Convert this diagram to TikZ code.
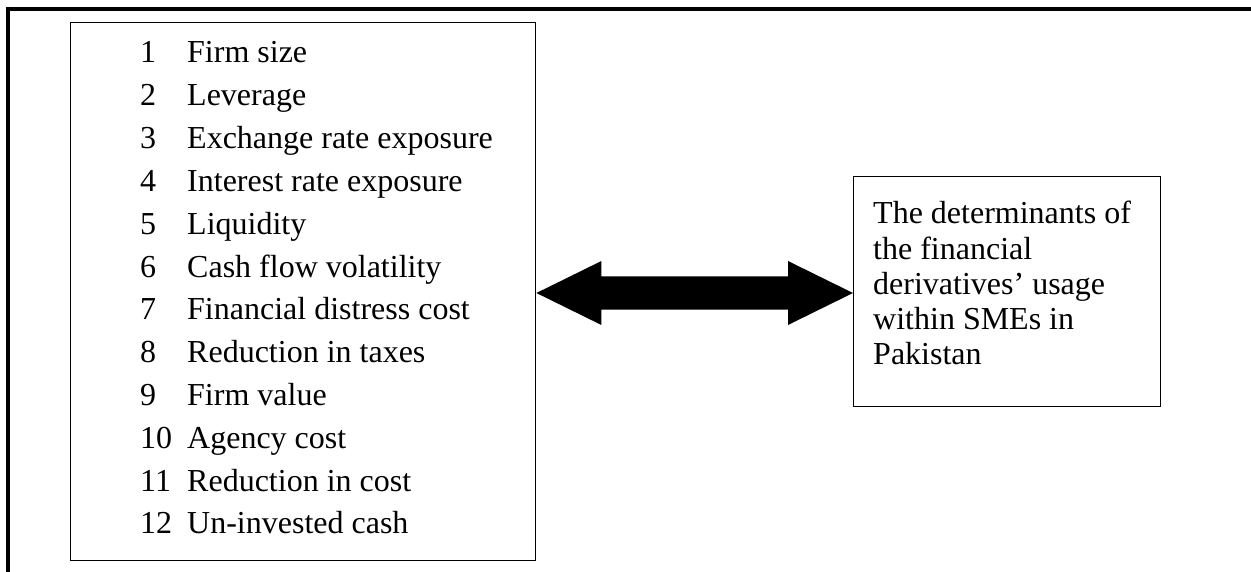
\documentclass[tikz,border=0pt]{standalone}
\usepackage{fontspec}
\setmainfont{Liberation Serif}
\usetikzlibrary{calc}
\begin{document}
\begin{tikzpicture}[x=1pt,y=-1pt,
  frame/.style={line width=4pt},
  box/.style={draw, line width=1.4pt},
  txt/.style={anchor=base west, inner sep=0pt, font=\fontsize{32}{38}\selectfont},
  bigarrow/.style={fill=black}]
\useasboundingbox (0,0) rectangle (1251,572);

% outer frame (open at right and bottom)
\draw[frame] (8,572) -- (8,9) -- (1251,9);

% left box with the list of factors
\node[box, minimum width=465pt, minimum height=538pt, anchor=north west] (list) at (70,22) {};
\foreach \n/\t [count=\i from 0] in {1/Firm size, 2/Leverage, 3/Exchange rate exposure,
  4/Interest rate exposure, 5/Liquidity, 6/Cash flow volatility,
  7/Financial distress cost, 8/Reduction in taxes, 9/Firm value,
  10/Agency cost, 11/Reduction in cost, 12/Un-invested cash}{
  \node[txt] (num\n) at (140,63+42.8*\i) {\n};
  \node[txt] (item\n) at (187,63+42.8*\i) {\t};
}

% right box
\node[box, minimum width=307pt, minimum height=230pt, anchor=north west] (goal) at (853,176) {};
\foreach \t [count=\i from 0] in {The determinants of, the financial,
  derivatives’ usage, within SMEs in, Pakistan}{
  \node[txt] (goal\i) at (873,224+35.2*\i) {\t};
}

% double-headed block arrow between the boxes
\coordinate (L) at (list.east |- 0,293);
\coordinate (R) at (goal.west |- 0,293);
\fill[bigarrow] (L)
  -- ++(65,-32) -- ++(0,15.5) -- ($(R)+(-65,-16.5)$) -- ++(0,-15.5) -- (R)
  -- ++(-65,32) -- ++(0,-15.5) -- ($(L)+(65,16.5)$) -- ++(0,15.5) -- cycle;
\end{tikzpicture}
\end{document}
